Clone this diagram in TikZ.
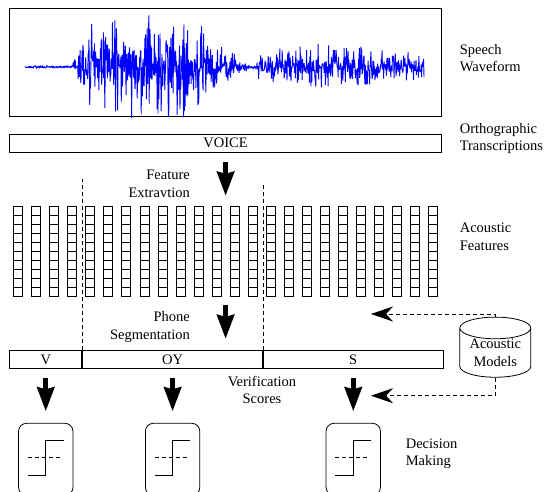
\documentclass[tikz,border=0pt]{standalone}
\usepackage{fontspec}
\setmainfont{Liberation Serif}
\usetikzlibrary{arrows.meta,shapes.geometric}
\definecolor{waveblue}{RGB}{0,0,255}

\begin{document}
\begin{tikzpicture}[x=1pt, y=-1pt,
    font=\fontsize{14.5}{17.5}\selectfont,
    box/.style={draw, line width=0.8pt, inner sep=0pt},
    lbl/.style={align=left, anchor=west, inner sep=0pt},
    bigarrow/.style={line width=5pt, -{Stealth[length=24pt, width=17pt, inset=2pt]}},
    modelarrow/.style={dash pattern=on 4pt off 3pt, line width=0.7pt, -{Stealth[length=22pt, width=15pt, inset=7pt]}},
    sepline/.style={dash pattern=on 4pt off 3pt, line width=0.6pt},
    stepline/.style={line width=0.9pt},
    decbox/.style={box, rounded corners=8pt, minimum width=54.4pt, minimum height=72pt},
    declare function={
      wamp(\t)=(\t<72) ? 2 : ((\t<90) ? 2+(\t-72)*2.67 : ((\t<190) ? 54 : ((\t<240) ? 54-(\t-190)*0.9 : ((\t<258) ? 5 : ((\t<300) ? 20 : ((\t<370) ? 26 : 17))))));
      sq(\u)=\u*abs(\u);}]
  \useasboundingbox (0,0) rectangle (546,492);
  \clip (0,0) rectangle (546,492);

  % waveform
  \node[box, minimum width=431.8pt, minimum height=107.7pt] (wave) at (225.6,62.2) {};
  \pgfmathsetseed{11}
  \draw[waveblue, line width=0.9pt, line join=bevel] plot[domain=25:424, samples=1000]
    (\x, {67 + wamp(\x)*(0.22*rand + 0.8*sq(rand))});
  \node[lbl] (wavelbl) at (459.6,58) {Speech\\Waveform};

  \node[box, minimum width=431.8pt, minimum height=18.3pt] (voice) at (225.6,143.2) {VOICE};
  \node[lbl] (orthlbl) at (459.6,138.3) {Orthographic\\Transcriptions};

  % acoustic features
  \node[inner sep=0pt, minimum width=424.2pt, minimum height=90.7pt] (feats) at (225.6,251.35) {};
  \foreach \c in {0,...,23}
    \foreach \r in {0,...,9}
      \draw[line width=0.7pt] (13.5+\c*18.05, 206+\r*9.07) rectangle ++(9,9.07);
  \node[lbl] (featlbl) at (459.6,237) {Acoustic\\Features};
  \node[align=right, anchor=east, inner sep=0pt] (extlbl) at (190,184) {Feature\\Extravtion};
  \draw[bigarrow, shorten <=9.4pt, shorten >=10pt] (voice) -- (feats);

  % phone segments
  \node[box, minimum width=72.1pt, minimum height=17.6pt] (segV) at (45.75,359.5) {V};
  \node[box, minimum width=180pt, minimum height=17.6pt, anchor=west] (segOY) at (segV.east) {OY};
  \node[box, minimum width=179.7pt, minimum height=17.6pt, anchor=west] (segS) at (segOY.east) {S};
  \draw[sepline] (segOY.north west) -- (segOY.north west |- 0,179.3);
  \draw[sepline] (segS.north west) -- (segS.north west |- 0,184);
  \node[align=right, anchor=east, inner sep=0pt] (seglbl) at (190,327) {Phone\\Segmentation};
  \draw[bigarrow, shorten <=8.3pt, shorten >=11.4pt] (feats.south) -- (feats.south |- segOY.north);

  % acoustic models
  \node[shape=cylinder, shape border rotate=90, aspect=0.42, draw, line width=0.8pt,
        minimum width=71pt, minimum height=59pt, align=center, inner sep=0pt] (models) at (495.3,352.8) {Acoustic\\Models};
  \coordinate (upin) at (371,314);
  \coordinate (lowin) at (371,395.7);
  \draw[modelarrow] (models.north) |- (upin);
  \draw[modelarrow] (models.south) |- (lowin);

  % decisions
  \node[align=center, inner sep=0pt] (scorelbl) at (262,390) {Verification\\Scores};
  \node[lbl] (declbl) at (405.6,453.7) {Decision\\Making};
  \foreach \s in {V,OY,S} {
    \node[decbox] (dec\s) at (seg\s |- 0,459.3) {};
    \draw[bigarrow, shorten <=9.4pt, shorten >=11.6pt] (seg\s) -- (dec\s);
    \draw[stepline] (dec\s.center) ++(-17.8,16.4) -- ++(17.8,0) -- ++(0,-35) -- ++(17.8,0);
    \draw[sepline] (dec\s.center) ++(-17.8,-1.6) -- ++(33.5,0);
  }
\end{tikzpicture}
\end{document}
